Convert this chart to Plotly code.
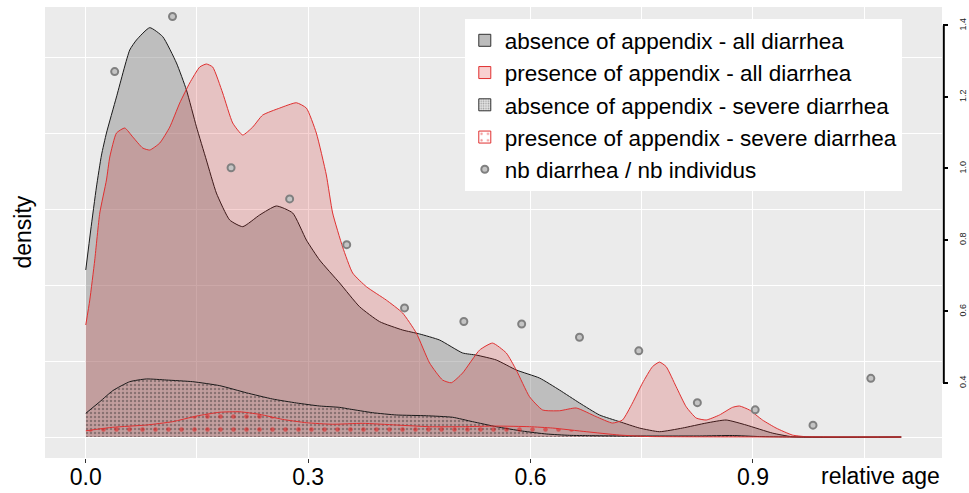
import plotly.graph_objects as go

# ---- data ----
age_abs_all = [0, 0.0067, 0.0144, 0.0212, 0.0279, 0.0414, 0.0593, 0.0684, 0.0863, 0.1038,
               0.1223, 0.1358, 0.1493, 0.1627, 0.1762, 0.1941, 0.2117, 0.2346, 0.2571, 0.2791,
               0.2976, 0.3155, 0.3425, 0.3694, 0.3964, 0.4274, 0.4503, 0.4773, 0.5083, 0.5268,
               0.5537, 0.5807, 0.6121, 0.6391, 0.6660, 0.6930, 0.7200, 0.7469, 0.7739, 0.8049,
               0.8369, 0.8638, 0.8908, 0.9262, 0.9532, 1.1]
dens_abs_all = [1.099, 1.362, 1.645, 1.855, 2.0, 2.237, 2.546, 2.612, 2.693, 2.634,
                2.461, 2.283, 2.041, 1.822, 1.605, 1.428, 1.384, 1.461, 1.520, 1.474,
                1.296, 1.164, 1.013, 0.857, 0.759, 0.704, 0.678, 0.638, 0.553, 0.539,
                0.507, 0.441, 0.388, 0.309, 0.224, 0.145, 0.101, 0.059, 0.035, 0.059,
                0.092, 0.112, 0.079, 0.026, 0.002, 0]

age_pre_all = [0, 0.0054, 0.0121, 0.0189, 0.0279, 0.0324, 0.0414, 0.0526, 0.0634, 0.0769,
               0.0863, 0.0998, 0.1133, 0.1267, 0.1402, 0.1537, 0.1627, 0.1712, 0.1847, 0.1982,
               0.2117, 0.2252, 0.2386, 0.2616, 0.2841, 0.2976, 0.3110, 0.3245, 0.3330, 0.3465,
               0.3600, 0.3785, 0.4054, 0.4274, 0.4459, 0.4638, 0.4813, 0.4931, 0.5083, 0.5312,
               0.5487, 0.5672, 0.5807, 0.5986, 0.6162, 0.6391, 0.6616, 0.6885, 0.7105, 0.7240,
               0.7375, 0.7510, 0.7645, 0.7739, 0.7829, 0.7964, 0.8099, 0.8234, 0.8369, 0.8548,
               0.8723, 0.8818, 0.8952, 0.9128, 0.9312, 0.9532, 0.9717, 1.1]
dens_pre_all = [0.737, 0.901, 1.164, 1.474, 1.691, 1.842, 2.0, 2.033, 1.974, 1.901,
                1.888, 1.934, 2.039, 2.197, 2.329, 2.434, 2.454, 2.434, 2.263, 2.066,
                1.987, 2.039, 2.118, 2.164, 2.199, 2.164, 2.0, 1.724, 1.474, 1.25,
                1.079, 0.989, 0.901, 0.816, 0.684, 0.487, 0.375, 0.357, 0.421, 0.572,
                0.618, 0.553, 0.441, 0.265, 0.178, 0.173, 0.191, 0.134, 0.092, 0.112,
                0.224, 0.355, 0.463, 0.493, 0.463, 0.331, 0.199, 0.125, 0.112, 0.145,
                0.195, 0.204, 0.178, 0.112, 0.059, 0.013, 0.002, 0]

age_abs_sev = [0, 0.0189, 0.0364, 0.0593, 0.0818, 0.1088, 0.1443, 0.1807, 0.2167, 0.2521,
               0.2841, 0.3155, 0.3425, 0.3559, 0.3870, 0.4189, 0.4594, 0.4948, 0.5218, 0.5537,
               0.5892, 0.6211, 0.6525, 0.6795, 0.7200, 0.8278, 0.8723, 0.9087, 0.9492, 1.1]
dens_abs_sev = [0.156, 0.232, 0.305, 0.364, 0.382, 0.375, 0.364, 0.338, 0.291, 0.25,
                0.224, 0.204, 0.195, 0.184, 0.160, 0.145, 0.140, 0.130, 0.101, 0.068,
                0.039, 0.020, 0.011, 0.009, 0.007, 0.007, 0.010, 0.003, 0, 0]

age_pre_sev = [0, 0.0364, 0.0818, 0.1173, 0.1493, 0.1807, 0.2076, 0.2346, 0.2656, 0.2976,
               0.3330, 0.3735, 0.4189, 0.4638, 0.5083, 0.5537, 0.5986, 0.6296, 0.6751, 0.7200,
               0.7604, 0.8278, 1.1]
dens_pre_sev = [0.041, 0.064, 0.079, 0.101, 0.138, 0.163, 0.166, 0.149, 0.116, 0.094,
                0.084, 0.090, 0.079, 0.068, 0.068, 0.072, 0.068, 0.059, 0.035, 0.013,
                0.003, 0.001, 0]

age_ratio = [0.039, 0.117, 0.196, 0.275, 0.352, 0.430, 0.510, 0.588, 0.666, 0.746,
             0.825, 0.903, 0.981, 1.059]
ratio = [1.271, 1.425, 1.002, 0.915, 0.787, 0.610, 0.572, 0.565, 0.528, 0.490,
         0.345, 0.325, 0.282, 0.413]

x_ticks = [0.0, 0.3, 0.6, 0.9]
x_ticklabels = ["0.0", "0.3", "0.6", "0.9"]
r_ticks = [0.4, 0.6, 0.8, 1.0, 1.2, 1.4]
r_ticklabels = ["0.4", "0.6", "0.8", "1.0", "1.2", "1.4"]

names = ["absence of appendix - all diarrhea",
         "presence of appendix - all diarrhea",
         "absence of appendix - severe diarrhea",
         "presence of appendix - severe diarrhea",
         "nb diarrhea / nb individus"]

FONT = "Liberation Sans, Arial, Helvetica, sans-serif"
GRAY_FILL = "rgba(122,122,122,0.4)"
RED_FILL = "rgba(210,20,20,0.19)"
BLACK_LINE = "#1a1a1a"
RED_LINE = "#e03030"
PAT_ABS = dict(shape=".", fgcolor="rgba(30,30,30,0.7)", bgcolor="rgba(0,0,0,0)",
               size=4, solidity=0.3)
PAT_PRE = dict(shape=".", fgcolor="#e81010", bgcolor="rgba(0,0,0,0)",
               size=13, solidity=0.1)

fig = go.Figure()
spline = dict(shape="spline", smoothing=0.5, width=1)
fig.add_trace(go.Scatter(x=age_abs_all, y=dens_abs_all, mode="lines", showlegend=False,
                         line=dict(color=BLACK_LINE, **spline),
                         fill="tozeroy", fillcolor=GRAY_FILL, hoverinfo="skip"))
fig.add_trace(go.Scatter(x=age_pre_all, y=dens_pre_all, mode="lines", showlegend=False,
                         line=dict(color=RED_LINE, **spline),
                         fill="tozeroy", fillcolor=RED_FILL, hoverinfo="skip"))
fig.add_trace(go.Scatter(x=age_abs_sev, y=dens_abs_sev, mode="lines", showlegend=False,
                         line=dict(color=BLACK_LINE, **spline),
                         fill="tozeroy", fillcolor="rgba(0,0,0,0)", fillpattern=PAT_ABS,
                         hoverinfo="skip"))
fig.add_trace(go.Scatter(x=age_pre_sev, y=dens_pre_sev, mode="lines", showlegend=False,
                         line=dict(color=RED_LINE, **spline),
                         fill="tozeroy", fillcolor="rgba(0,0,0,0)", fillpattern=PAT_PRE,
                         hoverinfo="skip"))

# legend-only entries (square keys like the reference)
fig.add_trace(go.Bar(x=[None], y=[None], name=names[0],
                     marker=dict(color="rgba(122,122,122,0.5)", line=dict(color="#333333", width=1))))
fig.add_trace(go.Bar(x=[None], y=[None], name=names[1],
                     marker=dict(color="rgba(220,20,20,0.2)", line=dict(color=RED_LINE, width=1))))
fig.add_trace(go.Bar(x=[None], y=[None], name=names[2],
                     marker=dict(color="white", line=dict(color="#333333", width=1),
                                 pattern=dict(shape=".", fgcolor="#555555", bgcolor="#e4e4e4",
                                              size=3, solidity=0.3))))
fig.add_trace(go.Bar(x=[None], y=[None], name=names[3],
                     marker=dict(color="white", line=dict(color=RED_LINE, width=1),
                                 pattern=dict(shape=".", fgcolor="#e02020", bgcolor="white",
                                              size=8, solidity=0.1))))

fig.add_trace(go.Scatter(x=age_ratio, y=ratio, name=names[4], mode="markers", yaxis="y2",
                         marker=dict(symbol="circle", size=7, color="#c4c4c4",
                                     line=dict(color="#808080", width=2))))

fig.add_shape(type="line", xref="paper", yref="y2", x0=1.002, x1=1.002, y0=0.4, y1=1.4,
              line=dict(color="black", width=2))

fig.add_annotation(text="density", xref="paper", yref="paper", x=-0.0256, y=0.5,
                   xanchor="center", yanchor="middle",
                   textangle=-90, showarrow=False, font=dict(family=FONT, size=23, color="black"))
fig.add_annotation(text="relative age", xref="paper", yref="paper", x=1.0, y=-0.040,
                   xanchor="right", yanchor="middle", showarrow=False,
                   font=dict(family=FONT, size=23, color="black"))

fig.update_layout(
    width=969, height=493,
    margin=dict(l=45, r=27, t=7, b=35, autoexpand=False),
    paper_bgcolor="white", plot_bgcolor="#EBEBEB",
    font=dict(family=FONT, size=22, color="black"),
    showlegend=True,
    legend=dict(x=0.468, y=0.973, xanchor="left", yanchor="top", bgcolor="white",
                font=dict(family=FONT, size=22.5, color="black"), borderwidth=0,
                traceorder="normal"),
    xaxis=dict(range=[-0.055, 1.155], tickvals=x_ticks, ticktext=x_ticklabels,
               ticks="outside", ticklen=4, tickcolor="#333333", tickwidth=1,
               ticklabelstandoff=-6,
               showgrid=True, gridcolor="white", gridwidth=1.2, zeroline=False,
               showline=False, tickfont=dict(size=23, color="black"), automargin=False,
               minor=dict(dtick=0.15, tick0=0, showgrid=True, gridcolor="white", gridwidth=0.8)),
    yaxis=dict(range=[-0.138, 2.829], dtick=1, tick0=0, showticklabels=False, ticks="",
               showgrid=True, gridcolor="white", gridwidth=1.2, zeroline=False, automargin=False,
               minor=dict(dtick=0.5, tick0=0, showgrid=True, gridcolor="white", gridwidth=0.8)),
    yaxis2=dict(overlaying="y", side="right", range=[0.1902, 1.4517],
                tickvals=r_ticks, ticktext=r_ticklabels, tickangle=-90,
                ticks="outside", ticklen=5, tickwidth=2, tickcolor="black",
                ticklabelstandoff=7, automargin=False,
                showgrid=False, zeroline=False, showline=False,
                tickfont=dict(size=9, color="#222222")),
)

fig.write_html("out.html", config={"displayModeBar": False},
               post_script="document.body.style.margin='0';")
